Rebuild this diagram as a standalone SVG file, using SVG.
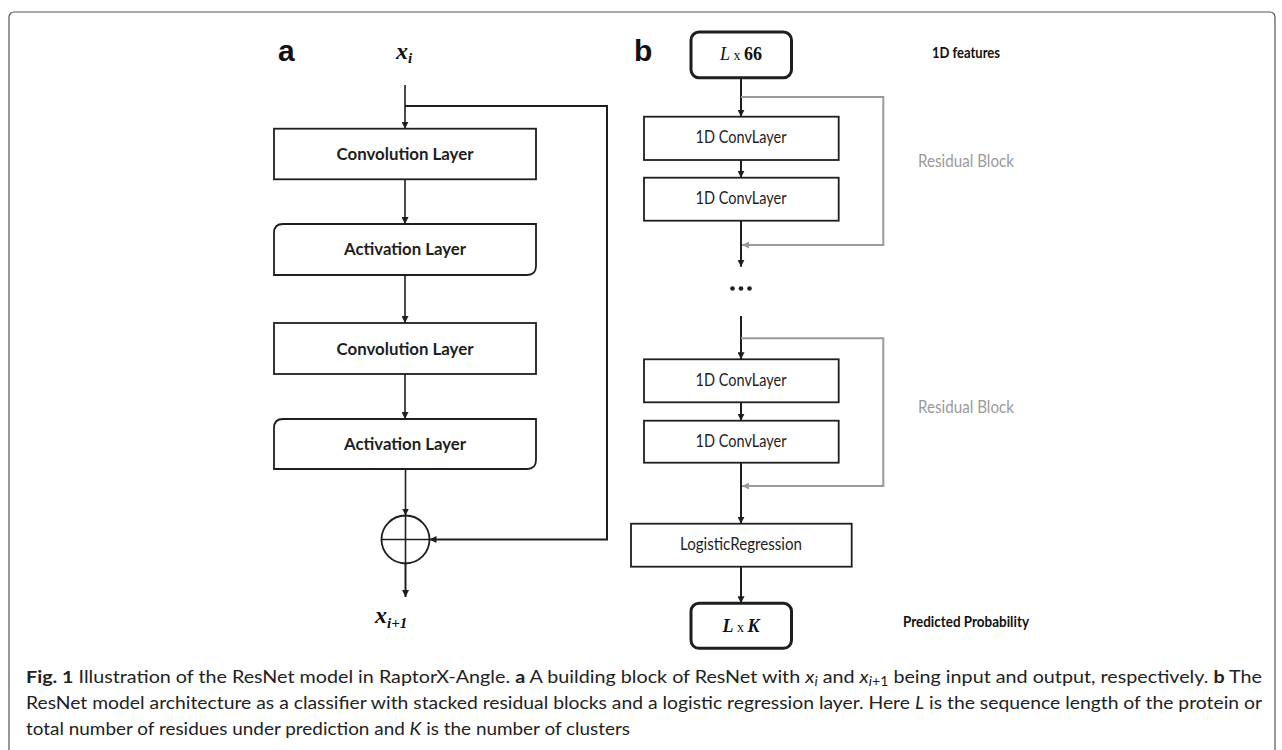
<svg xmlns="http://www.w3.org/2000/svg" width="1282" height="750" viewBox="0 0 1282 750">
<style>
.box{fill:#fff;stroke:#1e1e1e;stroke-width:1.8}
.tbox{fill:#fff;stroke:#1e1e1e;stroke-width:3}
.ln{fill:none;stroke:#1e1e1e;stroke-width:1.6}
.lnb{fill:none;stroke:#1e1e1e;stroke-width:2}
.gl{fill:none;stroke:#9a9a9a;stroke-width:2}
.lbl{font-family:Lato,"Open Sans",sans-serif;font-weight:700;font-size:17.5px;fill:#1e1e1e;text-anchor:middle}
.reg{font-family:Lato,"Open Sans",sans-serif;font-size:16.5px;fill:#1e1e1e;text-anchor:middle}
.side{font-family:Lato,"Open Sans",sans-serif;font-size:15.5px;fill:#111}
.gray{font-family:Lato,"Open Sans",sans-serif;font-size:16.5px;fill:#9a9a9a}
.panel{font-family:"Liberation Sans",Arial,sans-serif;font-weight:700;font-size:30px;fill:#111}
.math{font-family:"Liberation Serif","Times New Roman",serif;fill:#111}
.cap{font-family:Lato,"Open Sans",sans-serif;font-size:17.5px;fill:#222}
</style>
<defs>
<marker id="arr" viewBox="0 0 10 10" refX="10" refY="5" markerWidth="7" markerHeight="7" markerUnits="userSpaceOnUse" orient="auto"><path d="M0,0 L10,5 L0,10 z" fill="#1e1e1e"/></marker>
<marker id="garr" viewBox="0 0 10 10" refX="10" refY="5" markerWidth="8" markerHeight="7" markerUnits="userSpaceOnUse" orient="auto"><path d="M0,0 L10,5 L0,10 z" fill="#9a9a9a"/></marker>
</defs>
<rect width="1282" height="750" fill="#fff"/>
<rect id="frame" x="9" y="12" width="1266" height="760" rx="5" fill="none" stroke="#555" stroke-width="1.2"/>

<!-- panel a -->
<text class="panel" x="278" y="61">a</text>
<text class="math" x="396" y="59" font-size="24" font-weight="700" font-style="italic">x<tspan font-size="15" dy="4">i</tspan></text>

<g id="a-conv1"><rect class="box" x="274" y="128.7" width="262" height="50.6"/><text class="lbl" x="405" y="160" textLength="137" lengthAdjust="spacingAndGlyphs">Convolution Layer</text></g>
<g id="a-act1"><path class="box" d="M283,224 H536 V266 Q536,275 527,275 H274 V233 Q274,224 283,224 Z"/><text class="lbl" x="405" y="255" textLength="122" lengthAdjust="spacingAndGlyphs">Activation Layer</text></g>
<g id="a-conv2"><rect class="box" x="274" y="323" width="262" height="51"/><text class="lbl" x="405" y="355" textLength="137" lengthAdjust="spacingAndGlyphs">Convolution Layer</text></g>
<g id="a-act2"><path class="box" d="M283,419 H536 V460 Q536,469 527,469 H274 V428 Q274,419 283,419 Z"/><text class="lbl" x="405" y="450" textLength="122" lengthAdjust="spacingAndGlyphs">Activation Layer</text></g>
<g id="a-sum"><circle cx="405.5" cy="539.5" r="24" fill="#fff" stroke="#1e1e1e" stroke-width="1.8"/><path class="ln" d="M381.5,539.5 H429.5 M405.5,515.5 V563.5"/></g>
<text class="math" x="375" y="623" font-size="24" font-weight="700" font-style="italic">x<tspan font-size="15" dy="5">i+1</tspan></text>

<!-- panel b -->
<text class="panel" x="634" y="61">b</text>
<g id="b-input"><rect class="tbox" x="691" y="32" width="100.5" height="45.7" rx="8"/><text class="math" x="741" y="60" text-anchor="middle" font-size="18"><tspan font-style="italic">L</tspan><tspan font-size="14"> x </tspan><tspan font-weight="700">66</tspan></text></g>
<text class="side" x="932" y="58" font-weight="700" textLength="68" lengthAdjust="spacingAndGlyphs">1D features</text>
<g id="b-conv1"><rect class="box" x="644" y="116.7" width="194.7" height="43.3"/><text class="reg" x="741" y="143.3" textLength="91" lengthAdjust="spacingAndGlyphs">1D ConvLayer</text></g>
<g id="b-conv2"><rect class="box" x="644" y="177.7" width="194.7" height="43"/><text class="reg" x="741" y="204" textLength="91" lengthAdjust="spacingAndGlyphs">1D ConvLayer</text></g>
<text class="gray" x="918" y="166.7" textLength="96" lengthAdjust="spacingAndGlyphs">Residual Block</text>
<g id="b-dots" fill="#1e1e1e"><circle cx="732.5" cy="288.5" r="2.3"/><circle cx="741" cy="288.5" r="2.3"/><circle cx="749.5" cy="288.5" r="2.3"/></g>
<g id="b-conv3"><rect class="box" x="644" y="359.3" width="194.7" height="43"/><text class="reg" x="741" y="385.7" textLength="91" lengthAdjust="spacingAndGlyphs">1D ConvLayer</text></g>
<g id="b-conv4"><rect class="box" x="644" y="420.7" width="194.7" height="42"/><text class="reg" x="741" y="447.3" textLength="91" lengthAdjust="spacingAndGlyphs">1D ConvLayer</text></g>
<text class="gray" x="918" y="412.7" textLength="96" lengthAdjust="spacingAndGlyphs">Residual Block</text>
<g id="b-logreg"><rect class="box" x="631" y="523.7" width="220.7" height="43"/><text class="reg" x="741" y="550" textLength="122" lengthAdjust="spacingAndGlyphs">LogisticRegression</text></g>
<g id="b-output"><rect class="tbox" x="691" y="603.3" width="100.5" height="45" rx="8"/><text class="math" x="741" y="631.7" text-anchor="middle" font-size="18" font-weight="700" font-style="italic">L<tspan font-size="14" font-weight="400" font-style="normal"> x </tspan>K</text></g>
<text class="side" x="903" y="626.7" font-weight="700" textLength="126" lengthAdjust="spacingAndGlyphs">Predicted Probability</text>

<g id="connectors">
<path class="ln" d="M405,85 V128.7" marker-end="url(#arr)"/>
<path class="lnb" d="M405,106 H607 V539.5 H429.5" marker-end="url(#arr)"/>
<path class="ln" d="M405,179.3 V224" marker-end="url(#arr)"/>
<path class="ln" d="M405,275 V323" marker-end="url(#arr)"/>
<path class="ln" d="M405,374 V419" marker-end="url(#arr)"/>
<path class="ln" d="M405.5,469 V515.5" marker-end="url(#arr)"/>
<path class="lnb" d="M405.5,563.5 V597" marker-end="url(#arr)"/>
<path class="lnb" d="M741,77.7 V116.7" marker-end="url(#arr)"/>
<path class="gl" d="M741,97 H883.3 V245 H742" marker-end="url(#garr)"/>
<path class="lnb" d="M741,160 V177.7" marker-end="url(#arr)"/>
<path class="lnb" d="M741,220.7 V266.7" marker-end="url(#arr)"/>
<path class="lnb" d="M741,316 V359.3" marker-end="url(#arr)"/>
<path class="gl" d="M741,338.3 H883.3 V486 H742" marker-end="url(#garr)"/>
<path class="lnb" d="M741,402.3 V420.7" marker-end="url(#arr)"/>
<path class="lnb" d="M741,462.7 V523.7" marker-end="url(#arr)"/>
<path class="lnb" d="M741,566.7 V603.3" marker-end="url(#arr)"/>
</g>

<g id="caption">
<text class="cap" x="26" y="683" textLength="1236" lengthAdjust="spacingAndGlyphs"><tspan font-weight="700">Fig. 1</tspan> Illustration of the ResNet model in RaptorX-Angle. <tspan font-weight="700">a</tspan> A building block of ResNet with <tspan font-style="italic">x</tspan><tspan font-style="italic" font-size="12.5" dy="3">i</tspan><tspan dy="-3"> and </tspan><tspan font-style="italic">x</tspan><tspan font-size="12.5" dy="3"><tspan font-style="italic">i</tspan>+1</tspan><tspan dy="-3"> being input and output, respectively. </tspan><tspan font-weight="700">b</tspan> The</text>
<text class="cap" x="26" y="709" textLength="1236" lengthAdjust="spacingAndGlyphs">ResNet model architecture as a classifier with stacked residual blocks and a logistic regression layer. Here <tspan font-style="italic">L</tspan> is the sequence length of the protein or</text>
<text class="cap" x="26" y="735" textLength="604" lengthAdjust="spacingAndGlyphs">total number of residues under prediction and <tspan font-style="italic">K</tspan> is the number of clusters</text>
</g>
</svg>
